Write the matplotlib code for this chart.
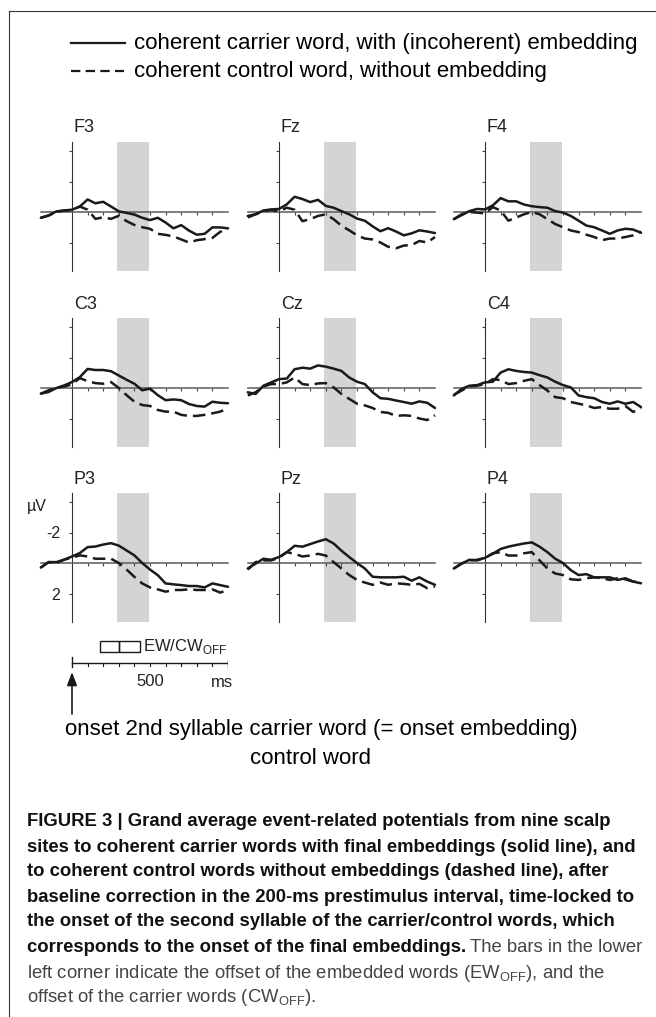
import numpy as np
import matplotlib
matplotlib.use('Agg')
import matplotlib.pyplot as plt
from matplotlib.lines import Line2D
from matplotlib.patches import Rectangle

plt.rcParams['font.family'] = ['Liberation Sans', 'DejaVu Sans']
plt.rcParams['mathtext.fontset'] = 'custom'
plt.rcParams['mathtext.rm'] = 'Liberation Sans'

# time points (ms) and ERP amplitudes (uV, negative plotted up)
times = [-200, -150, -100, -50, 0, 50, 100, 150, 200, 250, 300, 350, 400,
         450, 500, 550, 600, 650, 700, 750, 800, 850, 900, 950, 1000]

F3_solid = [0.38, 0.23, -0.04, -0.10, -0.15, -0.36, -0.82, -0.57, -0.67, -0.36, -0.04, 0.06, 0.17,
            0.38, 0.53, 0.38, 0.69, 1.07, 0.86, 1.22, 1.49, 1.43, 1.01, 1.01, 1.07]
F3_dashed = [0.38, 0.23, 0.00, -0.10, -0.12, -0.36, -0.15, 0.45, 0.35, 0.45, 0.25, 0.60, 0.85,
             1.00, 1.10, 1.43, 1.50, 1.60, 1.80, 2.00, 1.85, 1.78, 1.70, 1.30, 1.07]
Fz_solid = [0.26, 0.15, -0.10, -0.17, -0.20, -0.50, -1.00, -0.85, -0.65, -0.80, -0.40, -0.28, -0.06,
            0.15, 0.43, 0.57, 0.94, 1.26, 1.06, 1.28, 1.53, 1.40, 1.20, 1.28, 1.38]
Fz_dashed = [0.36, 0.15, -0.06, -0.13, -0.05, -0.28, -0.15, 0.60, 0.47, 0.26, 0.15, 0.47, 0.90,
             1.20, 1.53, 1.74, 1.80, 2.00, 2.28, 2.38, 2.20, 2.17, 1.90, 2.00, 1.64]
F4_solid = [0.47, 0.21, -0.06, -0.20, -0.17, -0.43, -0.91, -0.70, -0.70, -0.49, -0.38, -0.32, -0.28,
            -0.06, 0.04, 0.26, 0.57, 0.89, 1.00, 1.21, 1.43, 1.21, 1.10, 1.15, 1.36]
F4_dashed = [0.47, 0.15, 0.00, 0.04, 0.09, -0.32, -0.10, 0.57, 0.36, 0.15, 0.00, 0.15, 0.47,
             0.79, 1.00, 1.21, 1.32, 1.49, 1.64, 1.85, 1.74, 1.74, 1.64, 1.53, 1.28]

C3_solid = [0.37, 0.26, 0.00, -0.17, -0.39, -0.71, -1.25, -1.18, -1.18, -1.10, -0.82, -0.54, -0.28,
            0.15, 0.04, 0.47, 0.80, 0.75, 0.80, 1.05, 1.18, 1.22, 0.90, 0.97, 1.00]
C3_dashed = [0.37, 0.15, 0.00, -0.10, -0.24, -0.65, -0.45, -0.32, -0.28, -0.39, 0.00, 0.47, 0.90,
             1.12, 1.18, 1.44, 1.55, 1.55, 1.76, 1.83, 1.83, 1.76, 1.66, 1.55, 1.33]
Cz_solid = [0.28, 0.39, -0.15, -0.37, -0.58, -0.62, -1.23, -1.33, -1.27, -1.48, -1.40, -1.27, -1.12,
            -0.69, -0.41, -0.26, 0.28, 0.67, 0.71, 0.82, 0.92, 1.03, 0.88, 0.97, 1.31]
Cz_dashed = [0.49, 0.28, -0.10, -0.26, -0.26, -0.37, -0.69, -0.26, -0.19, -0.30, -0.32, -0.04, 0.39,
             0.71, 1.03, 1.14, 1.31, 1.57, 1.63, 1.83, 1.79, 1.83, 2.00, 2.10, 1.79]
C4_solid = [0.49, 0.06, -0.15, -0.19, -0.37, -0.41, -1.01, -1.23, -1.12, -1.05, -1.01, -0.84, -0.69,
            -0.41, -0.19, -0.04, 0.49, 0.60, 0.67, 0.92, 1.03, 0.88, 1.03, 0.92, 1.25]
C4_dashed = [0.45, 0.17, -0.10, -0.15, -0.26, -0.58, -0.52, -0.26, -0.32, -0.47, -0.58, -0.19, 0.17,
             0.60, 0.67, 0.92, 1.03, 1.14, 1.31, 1.25, 1.36, 1.36, 1.18, 1.57, 1.31]

P3_solid = [0.30, -0.06, -0.06, -0.22, -0.43, -0.65, -1.04, -1.08, -1.21, -1.30, -1.14, -0.82, -0.50,
            0.00, 0.43, 0.80, 1.34, 1.40, 1.45, 1.51, 1.51, 1.60, 1.34, 1.45, 1.56]
P3_dashed = [0.30, -0.06, 0.00, -0.22, -0.35, -0.50, -0.43, -0.28, -0.28, -0.28, 0.00, 0.43, 0.91,
             1.34, 1.60, 1.73, 1.88, 1.77, 1.77, 1.73, 1.77, 1.77, 1.73, 1.94, 1.77]
Pz_solid = [0.36, 0.04, -0.28, -0.21, -0.39, -0.71, -1.13, -1.07, -1.24, -1.41, -1.56, -1.28, -0.81,
            -0.39, 0.00, 0.36, 0.90, 0.94, 0.94, 0.94, 0.90, 1.16, 0.94, 1.22, 1.43]
Pz_dashed = [0.43, -0.06, -0.17, -0.17, -0.34, -0.71, -0.60, -0.43, -0.49, -0.60, -0.49, -0.06, 0.36,
             0.79, 1.11, 1.28, 1.43, 1.28, 1.43, 1.33, 1.37, 1.43, 1.37, 1.65, 1.54]
P4_solid = [0.36, 0.04, -0.21, -0.17, -0.34, -0.60, -0.92, -1.07, -1.18, -1.28, -1.35, -1.07, -0.71,
            -0.28, 0.00, 0.47, 0.79, 0.73, 0.94, 0.94, 0.94, 1.11, 1.00, 1.22, 1.33]
P4_dashed = [0.36, 0.04, -0.17, -0.21, -0.34, -0.64, -0.71, -0.49, -0.49, -0.64, -0.71, -0.17, 0.36,
             0.69, 0.79, 1.07, 1.11, 1.00, 0.94, 1.00, 1.11, 1.00, 1.07, 1.22, 1.22]

sites = [['F3', 'Fz', 'F4'], ['C3', 'Cz', 'C4'], ['P3', 'Pz', 'P4']]
curves = {
    'F3': (F3_solid, F3_dashed), 'Fz': (Fz_solid, Fz_dashed), 'F4': (F4_solid, F4_dashed),
    'C3': (C3_solid, C3_dashed), 'Cz': (Cz_solid, Cz_dashed), 'C4': (C4_solid, C4_dashed),
    'P3': (P3_solid, P3_dashed), 'Pz': (Pz_solid, Pz_dashed), 'P4': (P4_solid, P4_dashed),
}
band = (290, 495)          # grey analysis window, ms
ew_off = (180, 300)        # EW offset bar, ms
cw_off = (300, 435)        # CW offset bar, ms

W, H = 656, 1017
fig = plt.figure(figsize=(W / 100, H / 100), dpi=100)

def fx(px):
    return px / W

def fy(py):
    return 1 - py / H

# panel geometry in pixels
x_left, x_right = 40.8, 228.0   # -200 ms .. 1000 ms
col_off = [0, 207, 413]
row_zero = [212, 388, 563]
ppu = 15.25                     # px per uV
ytop, ybot = -4.6, 3.9
ink = '#1a1a1a'

for r in range(3):
    for c in range(3):
        name = sites[r][c]
        left = x_left + col_off[c]
        top = row_zero[r] + ytop * ppu
        bottom = row_zero[r] + ybot * ppu
        ax = fig.add_axes([fx(left), fy(bottom), (x_right - x_left) / W, (bottom - top) / H])
        ax.set_xlim(-200, 1000)
        ax.set_ylim(ybot, ytop)
        ax.patch.set_alpha(0)
        ax.axvspan(band[0], band[1], color='#d4d4d4', lw=0, zorder=0)

        for s in ['top', 'right']:
            ax.spines[s].set_visible(False)
        ax.spines['left'].set_position(('data', 0))
        ax.spines['bottom'].set_position(('data', 0))
        ax.spines['left'].set_color('#333333')
        ax.spines['left'].set_linewidth(0.8)
        ax.spines['bottom'].set_color('#5a5a5a')
        ax.spines['bottom'].set_linewidth(1.1)
        ax.set_xticks(range(100, 1000, 100))
        ax.set_yticks([-4, -2, 2])
        ax.tick_params(axis='both', direction='out', length=2.5, width=0.8, colors='#444444')
        ax.set_xticklabels([])
        if name == 'P3':
            ax.set_yticklabels(['', '-2', '2'], fontsize=11.5, color='#222222')
            ax.tick_params(axis='y', pad=6)
            fig.text(fx(27), fy(507), '\u00b5V', fontsize=11.5, va='center', color='#222222')
        else:
            ax.set_yticklabels([])

        sol, das = curves[name]
        ax.plot(times, sol, color=ink, lw=1.8, clip_on=False, zorder=3,
                solid_joinstyle='round', solid_capstyle='round')
        ax.plot(times, das, color=ink, lw=1.8, dashes=(5, 2.4), clip_on=False, zorder=3)

        fig.text(fx(left + 33), fy(row_zero[r] - 84), name, fontsize=13, va='center', color='#222222')

# legend at top
fig.add_artist(Line2D([fx(71), fx(125)], [fy(43), fy(43)], color=ink, lw=1.6))
fig.add_artist(Line2D([fx(71), fx(124)], [fy(71), fy(71)], color=ink, lw=1.6, dashes=(4.2, 2.4)))
fig.text(fx(134), fy(43), 'coherent carrier word, with (incoherent) embedding', fontsize=16, va='center')
fig.text(fx(134), fy(71), 'coherent control word, without embedding', fontsize=16, va='center')

# time scale bar with offset bars
sb = fig.add_axes([fx(x_left), fy(730), (x_right - x_left) / W, 100 / H])
sb.set_xlim(-200, 1000)
sb.set_ylim(730, 630)
sb.axis('off')
sb.plot([0, 1000], [663, 663], color=ink, lw=1.0)
for t in range(100, 1000, 100):
    sb.plot([t, t], [663, 666], color=ink, lw=0.8)
sb.plot([0, 0], [657, 667], color=ink, lw=1.0)
sb.plot([1000, 1000], [660, 667], color=ink, lw=1.0)
sb.add_patch(Rectangle((ew_off[0], 641), ew_off[1] - ew_off[0], 11, fill=False, ec=ink, lw=1.0))
sb.add_patch(Rectangle((cw_off[0], 641), cw_off[1] - cw_off[0], 11, fill=False, ec=ink, lw=1.0))
sb.text(455, 646.5, 'EW/CW$_{\\mathrm{OFF}}$', fontsize=12, va='center', color='#222222')
sb.text(500, 681, '500', fontsize=12, ha='center', va='center', color='#222222')
sb.text(962, 682, 'ms', fontsize=12, ha='center', va='center', color='#222222')
sb.annotate('', xy=(0, 672), xytext=(0, 714),
            arrowprops=dict(arrowstyle='-|>,head_length=0.8,head_width=0.3', color=ink, lw=1.2,
                            shrinkA=0, shrinkB=0))

fig.text(fx(321), fy(730), 'onset 2nd syllable carrier word (= onset embedding)',
         fontsize=16, ha='center', va='center')
fig.text(fx(310), fy(758), 'control word', fontsize=16, ha='center', va='center')

# caption
bold_lines = [
    'FIGURE 3 | Grand average event-related potentials from nine scalp',
    'sites to coherent carrier words with final embeddings (solid line), and',
    'to coherent control words without embeddings (dashed line), after',
    'baseline correction in the 200-ms prestimulus interval, time-locked to',
    'the onset of the second syllable of the carrier/control words, which',
]
cap_y = [822, 847, 872, 897, 922, 947, 973, 997]
cap_size = 13.3
for i, line in enumerate(bold_lines):
    fig.text(fx(27), fy(cap_y[i]), line, fontsize=cap_size, fontweight='bold', va='center', color='#111111')
last_bold = fig.text(fx(27), fy(cap_y[5]), 'corresponds to the onset of the final embeddings.',
                     fontsize=cap_size, fontweight='bold', va='center', color='#111111')
fig.canvas.draw()
bb = last_bold.get_window_extent(renderer=fig.canvas.get_renderer())
fig.text((bb.x1 + 4) / W, fy(cap_y[5]), 'The bars in the lower', fontsize=cap_size, va='center', color='#444444')
fig.text(fx(27), fy(cap_y[6]),
         'left corner indicate the offset of the embedded words (EW$_{\\mathrm{OFF}}$), and the',
         fontsize=cap_size, va='center', color='#444444')
fig.text(fx(27), fy(cap_y[7]), 'offset of the carrier words (CW$_{\\mathrm{OFF}}$).',
         fontsize=cap_size, va='center', color='#444444')

# frame (left and top edges)
fig.add_artist(Line2D([fx(8.5), fx(8.5)], [fy(10.5), 0], color='#333333', lw=0.8))
fig.add_artist(Line2D([fx(8.5), 1], [fy(10.5), fy(10.5)], color='#333333', lw=0.8))

fig.savefig('out.png', dpi=100)
